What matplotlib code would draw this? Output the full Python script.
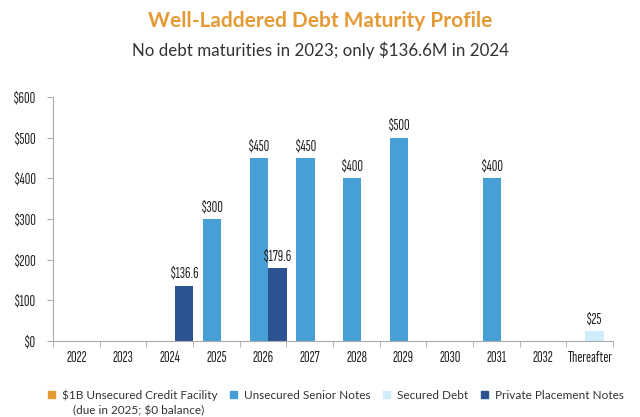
import matplotlib
matplotlib.use("Agg")
import matplotlib.pyplot as plt
from matplotlib.patches import Patch
import numpy as np

years = ["2022", "2023", "2024", "2025", "2026", "2027", "2028", "2029",
         "2030", "2031", "2032", "Thereafter"]
credit_facility = [0, 0, 0, 0, 0, 0, 0, 0, 0, 0, 0, 0]
senior_notes = [0, 0, 0, 300, 450, 450, 400, 500, 0, 400, 0, 0]
secured_debt = [0, 0, 0, 0, 0, 0, 0, 0, 0, 0, 0, 25]
private_notes = [0, 0, 136.6, 0, 179.6, 0, 0, 0, 0, 0, 0, 0]

c_orange = "#E59A35"
c_blue = "#479FD6"
c_light = "#CFECFA"
c_navy = "#2B5391"
narrow = ["Sofia Sans Extra Condensed", "DejaVu Sans"]
geo = ["Lato", "DejaVu Sans"]

fig = plt.figure(figsize=(6.4, 4.17), dpi=100)
ax = fig.add_axes([0.083, 0.182, 0.875, 0.585])

x = np.arange(len(years))
w = 0.39
series = [
    (senior_notes, -0.09, c_blue),
    (secured_debt, 0.10, c_light),
    (private_notes, 0.31, c_navy),
]
for vals, off, col in series:
    bars = ax.bar(x + off, vals, width=w, color=col, edgecolor="none")
    for b, v in zip(bars, vals):
        if v > 0:
            txt = ("\\$%g" % v) if v != int(v) else ("\\$%d" % v)
            ax.text(b.get_x() + b.get_width() / 2, v + 12, txt,
                    ha="center", va="bottom", fontsize=11, family=narrow,
                    color="#222222")

ax.set_xlim(-0.5, len(years) - 0.5)
ax.set_ylim(0, 600)
ax.set_yticks(range(0, 601, 100))
ax.set_yticklabels(["\\$%d" % v for v in range(0, 601, 100)],
                   fontsize=11, family=narrow, color="#222222")
ax.set_xticks(x)
ax.set_xticklabels(years, fontsize=11, family=narrow, color="#222222")
ax.set_xticks(np.arange(-0.5, len(years)), minor=True)
ax.tick_params(axis="x", which="major", length=0, pad=7)
ax.tick_params(axis="x", which="minor", length=4, color="#AAAAAA")
ax.tick_params(axis="y", length=4, color="#AAAAAA", pad=8)
for s in ["top", "right"]:
    ax.spines[s].set_visible(False)
ax.spines["left"].set_color("#AAAAAA")
ax.spines["bottom"].set_color("#AAAAAA")

fig.text(0.5, 0.950, "Well-Laddered Debt Maturity Profile", ha="center",
         va="center", fontsize=15, fontweight="bold", color=c_orange,
         family=geo)
fig.text(0.5, 0.880, "No debt maturities in 2023; only $136.6M in 2024",
         ha="center", va="center", fontsize=12.2, color="#333333", family=geo)

handles = [
    Patch(color=c_orange, label="\\$1B Unsecured Credit Facility"),
    Patch(color=c_blue, label="Unsecured Senior Notes"),
    Patch(color=c_light, label="Secured Debt"),
    Patch(color=c_navy, label="Private Placement Notes"),
]
leg_y = 0.053
leg = fig.legend(handles=handles, loc="center", ncol=4,
                 bbox_to_anchor=(0.525, leg_y), frameon=False,
                 prop={"family": geo, "size": 8.5}, handlelength=0.55,
                 handleheight=0.55, handletextpad=0.6, columnspacing=1.1,
                 labelcolor="#333333", borderpad=0)
fig.canvas.draw()
first = leg.get_texts()[0].get_window_extent()
fig.text((first.x0 + 11) / fig.bbox.width, leg_y - 0.037,
         "(due in 2025; \\$0 balance)", ha="left", va="center",
         fontsize=8.5, color="#333333", family=geo)

fig.savefig("out.png", dpi=100)
